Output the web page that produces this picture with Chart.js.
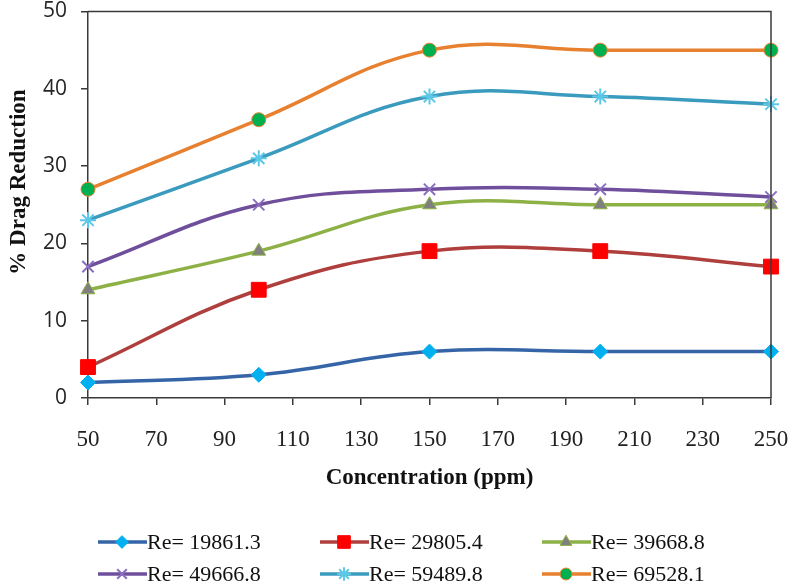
<!DOCTYPE html>
<html>
<head>
<meta charset="utf-8">
<script src="https://cdn.jsdelivr.net/npm/chart.js@4.4.1/dist/chart.umd.min.js"></script>
<style>
  html, body { margin: 0; padding: 0; background: #fff; }
  canvas { display: block; }
</style>
</head>
<body>
<canvas id="dragChart" width="792" height="586"></canvas>
<script>
// --- Data ---
const concentration = [50, 100, 150, 200, 250];
const re19861 = [2, 3, 6, 6, 6];
const re29805 = [4, 14, 19, 19, 17];
const re39668 = [14, 19, 25, 25, 25];
const re49666 = [17, 25, 27, 27, 26];
const re59489 = [23, 31, 39, 39, 38];
const re69528 = [27, 36, 45, 45, 45];
const seriesNames = ['Re= 19861.3', 'Re= 29805.4', 'Re= 39668.8', 'Re= 49666.8', 'Re= 59489.8', 'Re= 69528.1'];
const xTicks = [50, 70, 90, 110, 130, 150, 170, 190, 210, 230, 250];
const yTicks = [0, 10, 20, 30, 40, 50];

const serif = '"Liberation Serif", "DejaVu Serif", serif';
const sans = '"Open Sans", "Liberation Sans", sans-serif';

function pts(values) {
    return values.map((v, i) => ({ x: concentration[i], y: v }));
}

function series(label, values, line, marker, style, radius, markerBorder) {
    return {
        label: label,
        data: pts(values),
        borderColor: line,
        borderWidth: 3.5,
        tension: 0.4,
        fill: false,
        clip: false,
        pointStyle: style,
        pointRadius: radius,
        pointBackgroundColor: marker,
        pointBorderColor: markerBorder || marker,
        pointBorderWidth: style === 'crossRot' || style === 'star' ? 2 : 1
    };
}

const datasets = [
    series(seriesNames[0], re19861, '#3565A6', '#00B0F0', 'rectRot', 7.5),
    series(seriesNames[1], re29805, '#AE3F3C', '#FF0000', 'rect', 10.5),
    series(seriesNames[2], re39668, '#8DB146', '#7F7F7F', 'triangle', 8, '#8DB146'),
    series(seriesNames[3], re49666, '#6F4F9C', '#8A6FBF', 'crossRot', 8),
    series(seriesNames[4], re59489, '#3A9BBE', '#5CC8E8', 'star', 8),
    series(seriesNames[5], re69528, '#E8812F', '#00B050', 'circle', 7, '#E8812F')
];

// Plot frame, rotated y title and Excel style legend
const frameAndLegend = {
    id: 'frameAndLegend',
    afterDraw: chart => {
        const ctx = chart.ctx;
        const a = chart.chartArea;
        ctx.save();
        ctx.strokeStyle = '#3a3a3a';
        ctx.lineWidth = 1.5;
        ctx.beginPath();
        ctx.moveTo(a.left, a.top);
        ctx.lineTo(a.right, a.top);
        ctx.lineTo(a.right, a.bottom);
        ctx.stroke();

        // y axis title sits a bit above the plot centre in the original
        ctx.save();
        ctx.translate(19, 182);
        ctx.rotate(-Math.PI / 2);
        ctx.font = 'bold 23px ' + serif;
        ctx.fillStyle = '#111';
        ctx.textAlign = 'center';
        ctx.textBaseline = 'middle';
        ctx.fillText('% Drag Reduction', 0, 0);
        ctx.restore();

        const cols = [98, 320, 542];
        const rows = [542, 574];
        ctx.font = '22px ' + serif;
        ctx.textBaseline = 'middle';
        ctx.textAlign = 'left';
        chart.data.datasets.forEach((ds, i) => {
            const x = cols[i % 3];
            const y = rows[Math.floor(i / 3)];
            ctx.strokeStyle = ds.borderColor;
            ctx.lineWidth = 3.5;
            ctx.beginPath();
            ctx.moveTo(x, y);
            ctx.lineTo(x + 49, y);
            ctx.stroke();
            if (Chart.helpers && Chart.helpers.drawPoint) {
                ctx.fillStyle = ds.pointBackgroundColor;
                ctx.strokeStyle = ds.pointBorderColor;
                ctx.lineWidth = ds.pointBorderWidth;
                Chart.helpers.drawPoint(ctx, {
                    pointStyle: ds.pointStyle,
                    radius: ds.pointRadius * 0.85,
                    rotation: 0,
                    borderWidth: ds.pointBorderWidth
                }, x + 24, y);
            }
            ctx.fillStyle = '#111';
            ctx.fillText(ds.label, x + 49, y + 1);
        });
        ctx.restore();
    }
};

new Chart(document.getElementById('dragChart'), {
    type: 'line',
    data: { datasets: datasets },
    options: {
        responsive: false,
        animation: false,
        layout: {
            padding: { left: 0, top: 10, right: 21, bottom: 94 }
        },
        plugins: {
            legend: { display: false },
            tooltip: { enabled: false }
        },
        scales: {
            x: {
                type: 'linear',
                min: xTicks[0],
                max: xTicks[xTicks.length - 1],
                afterBuildTicks: axis => { axis.ticks = xTicks.map(v => ({ value: v })); },
                afterFit: scale => {
                    scale.paddingLeft = 0;
                    scale.paddingRight = 0;
                    scale.height = 94;
                },
                ticks: {
                    font: { family: serif, size: 23 },
                    color: '#222',
                    padding: 21,
                    maxRotation: 0
                },
                grid: {
                    drawOnChartArea: false,
                    drawTicks: true,
                    tickLength: 7,
                    color: '#3a3a3a',
                    lineWidth: 1.5
                },
                border: { color: '#3a3a3a', width: 1.5 },
                title: {
                    display: true,
                    text: 'Concentration (ppm)',
                    font: { family: serif, size: 23, weight: 'bold' },
                    color: '#111',
                    padding: { top: 12, bottom: 0 }
                }
            },
            y: {
                min: yTicks[0],
                max: yTicks[yTicks.length - 1],
                afterBuildTicks: axis => { axis.ticks = yTicks.map(v => ({ value: v })); },
                afterFit: scale => {
                    scale.paddingTop = 0;
                    scale.paddingBottom = 0;
                    scale.width = 88;
                },
                ticks: {
                    font: { family: sans, size: 21 },
                    color: '#262626',
                    padding: 14
                },
                grid: {
                    drawOnChartArea: false,
                    drawTicks: true,
                    tickLength: 7,
                    color: '#3a3a3a',
                    lineWidth: 1.5
                },
                border: { color: '#3a3a3a', width: 1.5 }
            }
        }
    },
    plugins: [frameAndLegend]
});
</script>
</body>
</html>
